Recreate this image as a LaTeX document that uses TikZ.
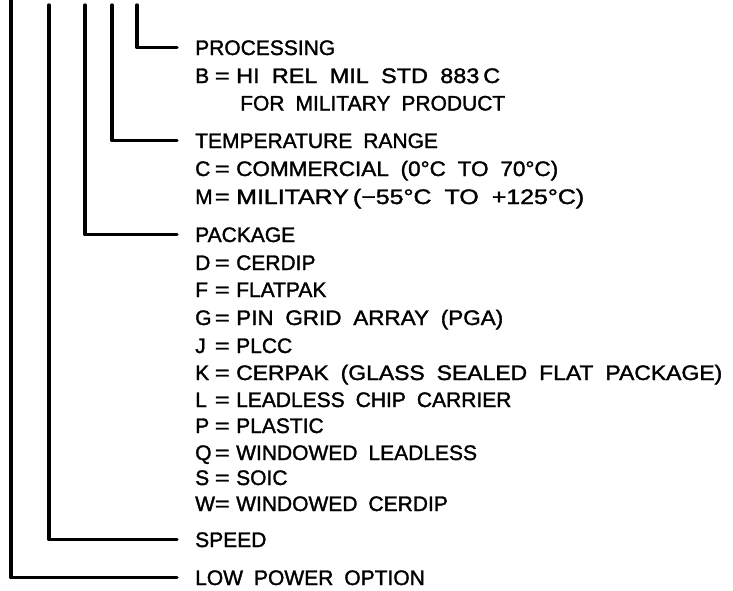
\documentclass[tikz,border=0pt]{standalone}
\usepackage{fontspec}
\setmainfont{Liberation Sans}[FakeBold=1.5]
\newcommand\eqsign{\scalebox{1.2}[1]{=}}
\newcommand\eqrow[2]{\makebox[20pt][l]{#1}\makebox[14pt][c]{\eqsign}\hspace{7pt}#2}
\newcommand\fitto[2]{\resizebox{#1}{\height}{#2}}
\newcommand\lblfont{\fontsize{21}{25}\selectfont\spaceskip 11pt\relax}
\begin{document}
\begin{tikzpicture}[x=1pt,y=-1pt,
  lbl/.style={anchor=base west, inner sep=0pt, font=\lblfont},
  wire/.style={line width=3.3pt, line join=round, line cap=round}]
\useasboundingbox (0,0) rectangle (733,590);
% labels
\node[lbl] (procH) at (195,55) {PROCESSING};
\node[lbl] (procB) at (195,83) {\eqrow{B}{\fitto{264pt}{HI REL MIL STD 883\,C}}};
\node[lbl] (procF) at (240,110.5) {FOR MILITARY PRODUCT};
\node[lbl] (tempH) at (195,148) {TEMPERATURE RANGE};
\node[lbl] (tempC) at (195,176) {\eqrow{C}{\fitto{322pt}{COMMERCIAL (0°C TO 70°C)}}};
\node[lbl] (tempM) at (195,204) {\eqrow{M}{\fitto{348pt}{MILITARY\,(−55°C TO +125°C)}}};
\node[lbl] (pkgH) at (195,242) {PACKAGE};
\node[lbl] (pkgD) at (195,270) {\eqrow{D}{CERDIP}};
\node[lbl] (pkgF) at (195,297) {\eqrow{F}{FLATPAK}};
\node[lbl] (pkgG) at (195,325) {\eqrow{G}{\fitto{267pt}{PIN GRID ARRAY (PGA)}}};
\node[lbl] (pkgJ) at (195,353) {\eqrow{J}{PLCC}};
\node[lbl] (pkgK) at (195,380) {\eqrow{K}{\fitto{486pt}{CERPAK (GLASS SEALED FLAT PACKAGE)}}};
\node[lbl] (pkgL) at (195,407) {\eqrow{L}{LEADLESS CHIP CARRIER}};
\node[lbl] (pkgP) at (195,433) {\eqrow{P}{PLASTIC}};
\node[lbl] (pkgQ) at (195,460) {\eqrow{Q}{WINDOWED LEADLESS}};
\node[lbl] (pkgS) at (195,485) {\eqrow{S}{SOIC}};
\node[lbl] (pkgW) at (195,511) {\eqrow{W}{WINDOWED CERDIP}};
\node[lbl] (spdH) at (195,547) {SPEED};
\node[lbl] (lowH) at (195,585) {LOW POWER OPTION};
% tops of the leads
\coordinate (t1) at (11,0);
\coordinate (t2) at (49,5);
\coordinate (t3) at (85,5);
\coordinate (t4) at (112,5);
\coordinate (t5) at (137,5);
% leads
\draw[wire] (t5) |- ([xshift=-18pt,yshift=7.5pt]procH.base west);
\draw[wire] (t4) |- ([xshift=-18pt,yshift=7.5pt]tempH.base west);
\draw[wire] (t3) |- ([xshift=-18pt,yshift=7.5pt]pkgH.base west);
\draw[wire] (t2) |- ([xshift=-18pt,yshift=7.5pt]spdH.base west);
\draw[wire] (t1) |- ([xshift=-18pt,yshift=7.5pt]lowH.base west);
\end{tikzpicture}
\end{document}
